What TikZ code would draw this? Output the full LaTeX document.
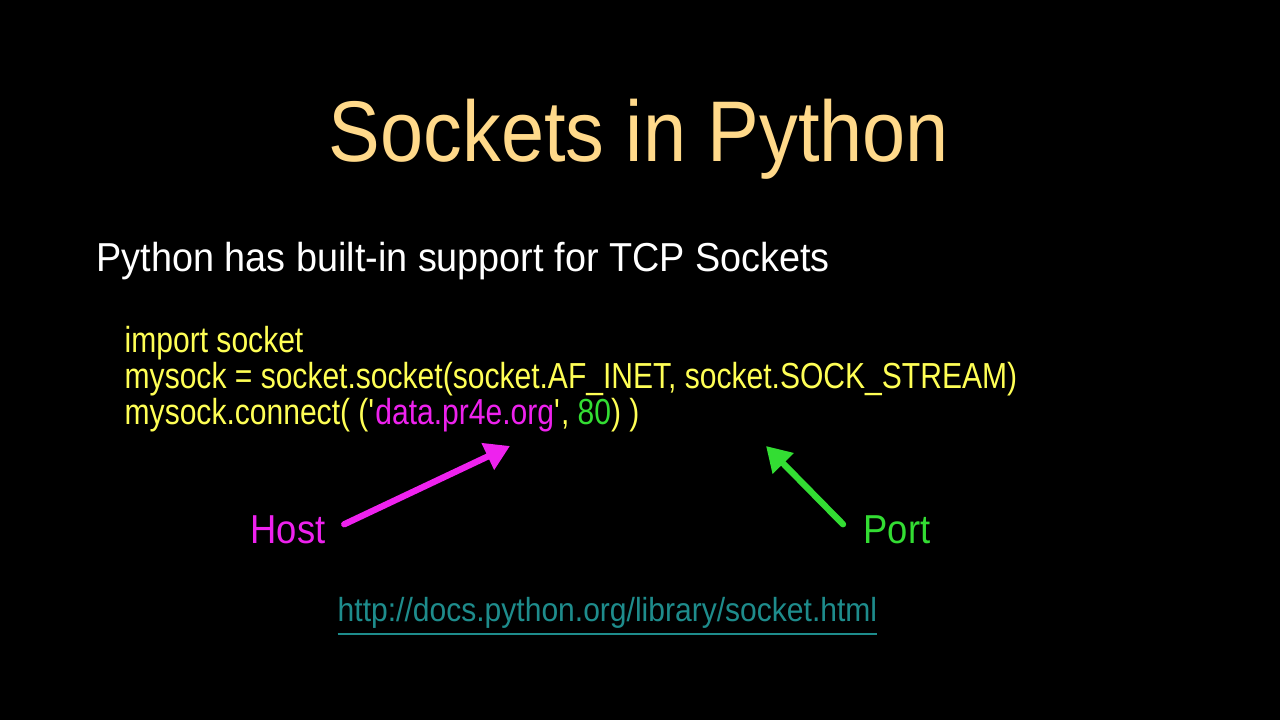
\documentclass[tikz,border=0pt]{standalone}
\usepackage{fontspec}
\setmainfont{Liberation Sans}
\newfontfamily\narrowfont[FakeStretch=0.9]{Liberation Sans}
\newfontfamily\introfont[FakeStretch=0.935]{Liberation Sans}
\newfontfamily\codefont[FakeStretch=0.83]{Liberation Sans}
\usetikzlibrary{arrows.meta}
\definecolor{titlecol}{HTML}{FFD98A}
\definecolor{codecol}{HTML}{FFFF55}
\definecolor{hostcol}{HTML}{EE22EE}
\definecolor{portcol}{HTML}{33DD33}
\definecolor{urlcol}{HTML}{1E8C8C}
\tikzset{
  codeline/.style={anchor=base west,inner sep=0pt,text=codecol,font=\codefont\fontsize{10.3}{12}\selectfont},
  label/.style={anchor=base west,inner sep=0pt,font=\narrowfont\fontsize{11.5}{13}\selectfont},
  pointer/.style={line width=1.8pt,-{Triangle[length=7pt,width=8pt]},line cap=round}
}
\begin{document}
\begin{tikzpicture}
\fill[black] (0,0) rectangle (12.8,7.2);
\useasboundingbox (0,0) rectangle (12.8,7.2);

\node[anchor=base,inner sep=0pt,text=titlecol,font=\narrowfont\fontsize{24.5}{28}\selectfont] (title) at (6.39,5.58) {Sockets in Python};
\node[anchor=base west,inner sep=0pt,text=white,font=\introfont\fontsize{11.5}{13}\selectfont] (intro) at (0.96,4.48) {Python has built-in support for TCP Sockets};

\node[codeline] (line1) at (1.24,3.67) {import socket};
\node[codeline] (line2) at (1.24,3.31) {mysock = socket.socket(socket.AF\_INET, socket.SOCK\_STREAM)};
\node[codeline] (line3) at (1.24,2.95) {mysock.connect( (\textquotesingle\textcolor{hostcol}{data.pr4e.org}\textquotesingle, \textcolor{portcol}{80}) )};

\node[label,text=hostcol] (host) at (2.50,1.76) {Host};
\node[label,text=portcol] (port) at (8.63,1.76) {Port};

\coordinate (hosttip) at (5.10,2.74);
\coordinate (porttip) at (7.66,2.74);
\draw[pointer,hostcol] (host.east) ++(0.18,0.06) coordinate (hoststart) -- (hosttip);
\draw[pointer,portcol] (port.west) ++(-0.2,0.06) coordinate (portstart) -- (porttip);

\node[anchor=base west,inner sep=0pt,text=urlcol,font=\narrowfont\fontsize{9.5}{11}\selectfont] (url) at (3.37,0.98) {\underline{http://docs.python.org/library/socket.html}};
\end{tikzpicture}
\end{document}
